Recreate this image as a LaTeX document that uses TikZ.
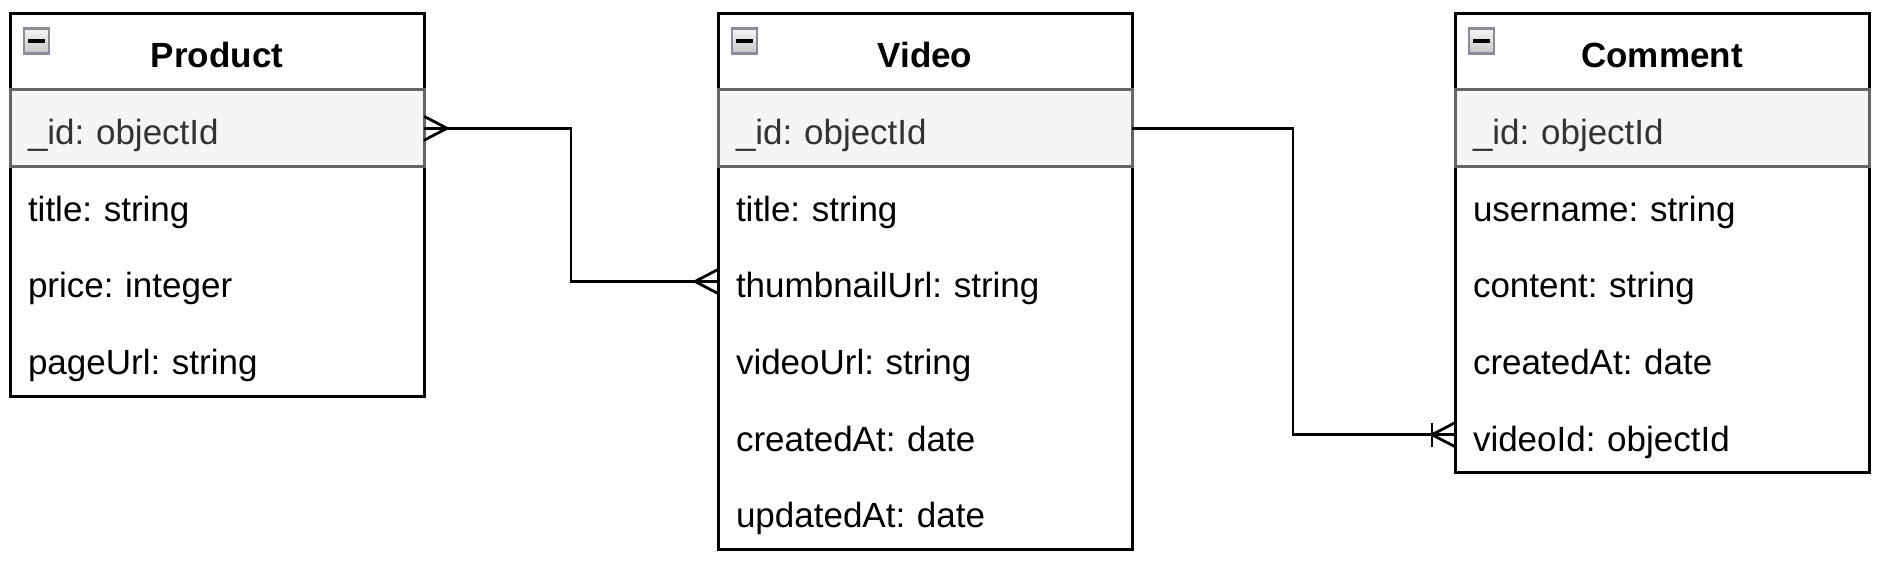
\documentclass[tikz,border=0pt]{standalone}
\usepackage{fontspec}
\setmainfont{Liberation Sans}
\usetikzlibrary{calc}
\definecolor{idfill}{HTML}{F5F5F5}
\definecolor{idline}{HTML}{666666}
\definecolor{idtext}{HTML}{333333}
\definecolor{iconedge}{HTML}{8A8D99}
\frenchspacing
\begin{document}
\begin{tikzpicture}[x=0.5pt,y=-0.5pt,
  entity/.style={draw=black, fill=white, line width=1.5pt, inner sep=0pt, outer sep=0pt,
    minimum width=207pt, anchor=north west},
  title/.style={font=\fontsize{17.5}{21}\selectfont\bfseries, inner sep=0pt,
    text height=15.4pt, text depth=0pt},
  row/.style={anchor=north west, inner xsep=9pt, inner ysep=0pt, outer sep=0pt,
    minimum width=207pt, minimum height=38.3pt, text width=189pt, align=left,
    font=\fontsize{17.5}{21}\selectfont\frenchspacing, text height=16.4pt, text depth=0pt},
  idrow/.style={row, draw=idline, fill=idfill, line width=1.5pt, text=idtext},
  icon/.style={draw=iconedge, line width=1.3pt, minimum size=12.5pt, inner sep=0pt,
    top color=white!92!gray, bottom color=gray!45,
    path picture={\draw[black, line width=2pt]
      ([xshift=-4.2pt]path picture bounding box.center) --
      ([xshift=4.2pt]path picture bounding box.center);}},
  conn/.style={draw=black, line width=1.4pt},
  manyfoot/.pic={\draw[conn] (0,-12) -- (23,0) -- (0,12);},
  onemanyfoot/.pic={\draw[conn] (0,-12) -- (23,0) -- (0,12);
                    \draw[conn] (23,-12) -- (23,12);}
]
\useasboundingbox (0,0) rectangle (1881,565);

% ---------- Product ----------
\node[entity, minimum height=191.2pt] (product) at (10,14) {};
\node[title] (product-title) at (217,52) {Product};
\node[icon] (product-icon) at (36.5,41) {};
\node[idrow] (product-id) at (10,90) {\_id: objectId};
\node[row] (product-r1) at (10,166.6) {title: string};
\node[row] (product-r2) at (10,243.2) {price: integer};
\node[row] (product-r3) at (10,319.8) {pageUrl: string};

% ---------- Video ----------
\node[entity, minimum height=267.8pt] (video) at (718,14) {};
\node[title] (video-title) at (925,52) {Video};
\node[icon] (video-icon) at (744.5,41) {};
\node[idrow] (video-id) at (718,90) {\_id: objectId};
\node[row] (video-r1) at (718,166.6) {title: string};
\node[row] (video-r2) at (718,243.2) {thumbnailUrl: string};
\node[row] (video-r3) at (718,319.8) {videoUrl: string};
\node[row] (video-r4) at (718,396.4) {createdAt: date};
\node[row] (video-r5) at (718,473) {updatedAt: date};

% ---------- Comment ----------
\node[entity, minimum height=229.5pt] (comment) at (1455,14) {};
\node[title] (comment-title) at (1662,52) {Comment};
\node[icon] (comment-icon) at (1481.5,41) {};
\node[idrow] (comment-id) at (1455,90) {\_id: objectId};
\node[row] (comment-r1) at (1455,166.6) {username: string};
\node[row] (comment-r2) at (1455,243.2) {content: string};
\node[row] (comment-r3) at (1455,319.8) {createdAt: date};
\node[row] (comment-r4) at (1455,396.4) {videoId: objectId};

% ---------- Connectors ----------
\draw[conn] (product-id.east) -- ++(147,0) |- (video-r2.west);
\pic at (product-id.east) {manyfoot};
\pic[xscale=-1] at (video-r2.west) {manyfoot};

\draw[conn] (video-id.east) -- ++(161,0) |- (comment-r4.west);
\pic[xscale=-1] at (comment-r4.west) {onemanyfoot};
\end{tikzpicture}
\end{document}
